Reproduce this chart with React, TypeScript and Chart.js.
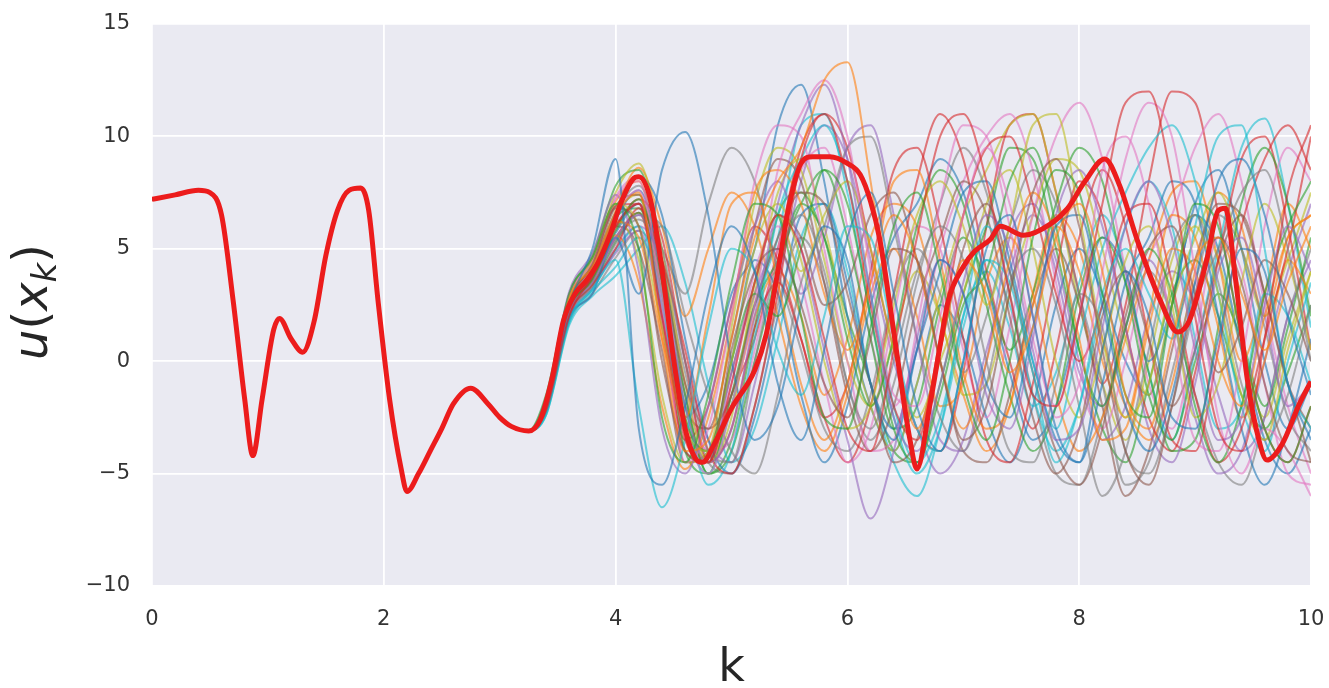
import React, { useEffect, useRef } from "react";
import { Chart, registerables } from "chart.js";

Chart.register(...registerables);

// ---- data ----
const RED_K = [0, 0.2, 0.4, 0.5, 0.6, 0.7, 0.8, 0.87, 0.95, 1.05, 1.1, 1.2, 1.3, 1.4, 1.5, 1.6, 1.7, 1.8, 1.87, 1.95, 2.05, 2.15, 2.2, 2.3, 2.4, 2.5, 2.6, 2.75, 2.9, 3.0, 3.1, 3.25,
  3.35, 3.45, 3.55, 3.65, 3.75, 3.85, 3.95, 4.05, 4.15, 4.2, 4.3, 4.4, 4.5, 4.6, 4.7, 4.75, 4.85, 5.0, 5.2, 5.3, 5.4, 5.5, 5.6, 5.7, 5.85, 6.0, 6.11, 6.2, 6.28, 6.37, 6.45, 6.54, 6.6, 6.71, 6.81,
  6.87, 7.0, 7.1, 7.23, 7.32, 7.52, 7.75, 7.9, 8.05, 8.22, 8.35, 8.5, 8.7, 8.85, 8.95, 9.1, 9.2, 9.26, 9.35, 9.45, 9.55, 9.62, 9.75, 9.9, 10];
const RED_U = [7.2, 7.4, 7.6, 7.5, 6.5, 2.7, -1.7, -4.2, -1.7, 1.4, 1.9, 1.0, 0.4, 1.8, 4.7, 6.7, 7.6, 7.7, 6.7, 2.7, -1.7, -4.8, -5.8, -5.0, -4.0, -3.0, -1.9, -1.2, -1.9, -2.5, -2.9, -3.1,
  -2.6, -0.8, 1.8, 3.0, 3.6, 4.4, 5.6, 7.1, 8.1, 8.2, 7.2, 4.1, 0.1, -3.0, -4.4, -4.5, -3.7, -2.1, -0.4, 1.2, 4.0, 7.0, 8.8, 9.1, 9.1, 8.8, 8.3, 7.1, 5.4, 2.4, -0.5, -3.5, -4.8, -2.0, 1.0,
  2.7, 4.2, 4.9, 5.4, 6.0, 5.6, 6.1, 6.8, 8.0, 9.0, 7.8, 5.4, 2.7, 1.3, 1.8, 4.5, 6.7, 6.8, 3.6, -0.8, -3.5, -4.4, -3.7, -1.9, -0.9];

const TAIL_K = [3.4, 3.6, 3.8, 4.0, 4.2, 4.4, 4.6, 4.8, 5.0, 5.2, 5.4, 5.6, 5.8, 6.0, 6.2, 6.4, 6.6, 6.8, 7.0, 7.2, 7.4, 7.6, 7.8, 8.0, 8.2, 8.4, 8.6, 8.8, 9.0, 9.2, 9.4, 9.6, 9.8, 10.0];

const ENS_1 = [-2.0, 2.5, 5.0, 9.0, -3.0, -5.5, -2.0, 3.0, 6.0, 4.0, -1.0, -3.5, 0.5, 5.5, 7.5, 3.0, -2.0, -4.0, 0.0, 5.0, 6.5, 2.0, -3.0, -4.5, 0.5, 4.0, 2.0, -2.5, -3.0, 1.0, 5.0, 4.0, -1.0, -3.5];
const ENS_2 = [-1.8, 2.8, 4.2, 6.5, 7.5, 1.0, -4.0, -3.5, 1.0, 5.5, 8.0, 9.5, 12.5, 13.3, 8.0, 1.0, -3.0, 0.5, 4.5, 3.0, -0.5, 1.5, 5.5, 7.0, 4.0, -1.5, -3.0, 1.0, 4.5, 5.5, 3.0, 0.5, 3.5, 6.0];
const ENS_3 = [-1.5, 3.0, 4.6, 7.0, 5.0, -2.5, -4.5, -1.5, 3.5, 7.0, 6.5, 2.0, -2.5, -3.0, 1.5, 6.0, 7.5, 4.0, -1.0, -3.5, 0.0, 5.5, 8.5, 7.5, 3.0, -1.5, -2.5, 2.5, 7.0, 6.0, 1.0, -3.0, -4.5, -2.0];
const ENS_4 = [-2.2, 2.0, 3.8, 6.0, 7.0, 2.0, -3.5, -4.5, -1.0, 3.5, 6.5, 5.0, 1.0, -3.0, -4.0, 0.5, 5.5, 10.0, 11.0, 8.0, 3.0, -1.5, -2.0, 2.0, 7.0, 11.5, 12.0, 8.0, 2.0, -3.0, -4.0, 1.0, 7.5, 10.5];
const ENS_5 = [-2.0, 2.2, 3.5, 5.5, 6.5, 4.0, -2.0, -4.5, -3.0, 2.0, 7.0, 10.5, 12.3, 9.0, 3.0, -2.5, -4.0, -1.0, 3.5, 6.5, 5.0, 0.5, -3.5, -3.0, 1.5, 6.0, 8.0, 5.5, 0.5, -3.5, -2.5, 2.5, 6.0, 4.0];
const ENS_6 = [-1.9, 2.6, 4.3, 6.8, 6.0, 0.0, -4.0, -4.5, 0.5, 4.0, 5.0, 2.5, -1.0, -2.5, 1.0, 5.0, 4.5, 0.0, -3.5, -2.0, 3.0, 7.5, 9.0, 6.0, 0.5, -4.0, -5.5, -2.0, 3.0, 5.5, 3.5, -1.0, -4.0, -4.5];
const ENS_7 = [-1.7, 2.9, 4.4, 7.2, 8.0, 3.0, -3.0, -5.0, -2.0, 2.5, 8.5, 11.0, 12.5, 10.0, 4.0, -1.5, -2.0, 2.0, 6.5, 9.5, 7.0, 2.0, -2.5, -1.0, 4.0, 9.0, 11.5, 10.0, 4.0, -2.5, -5.0, -3.0, -4.0, -6.0];
const ENS_8 = [-2.1, 2.4, 4.0, 6.6, 7.8, 5.0, 0.0, -4.0, -4.5, 0.0, 4.5, 6.5, 4.0, -1.0, -3.0, 0.0, 4.0, 6.0, 4.5, 0.0, -4.0, -4.5, -1.0, 3.0, 1.5, -4.0, -5.0, -2.0, 2.5, 5.0, 7.5, 8.5, 5.0, 0.0];
const ENS_9 = [-1.8, 2.7, 4.5, 7.0, 6.0, 1.5, -3.0, -4.0, 0.0, 5.0, 7.0, 4.5, 0.0, -3.0, -2.0, 2.5, 6.5, 8.0, 6.0, 2.5, 6.0, 10.5, 11.0, 6.5, 1.0, -2.5, -1.0, 3.5, 6.0, 3.0, -1.5, -3.5, 0.5, 4.0];
const ENS_10 = [-2.3, 1.8, 3.2, 4.5, -2.0, -6.5, -3.5, 1.5, 5.0, 4.0, 0.5, -1.5, 2.0, 6.0, 5.5, 1.0, -3.0, -4.0, 0.0, 4.5, 3.5, -0.5, -4.5, -2.0, 3.0, 5.0, 3.0, 1.0, 6.0, 10.0, 10.5, 5.0, -1.0, -3.0];
const ENS_11 = [-2.2, 1.9, 3.0, 5.5, 3.0, 8.5, 10.2, 6.5, 0.0, -3.5, -2.0, 2.5, 6.0, 4.5, -1.0, -3.5, 0.5, 4.5, 3.0, -1.0, -2.5, 1.5, 6.0, 6.5, 2.5, -2.0, -4.0, -1.5, 3.5, 8.0, 9.0, 6.5, 2.0, -1.5];
const ENS_12 = [-1.9, 2.5, 3.9, 6.2, 5.5, 1.0, -2.5, 2.0, 7.0, 7.5, 3.5, -1.0, -3.5, -1.0, 3.5, 6.5, 4.5, 0.0, -3.0, 0.0, 4.5, 7.5, 5.5, 1.0, -3.5, -3.0, 1.5, 5.0, 4.0, 0.0, -2.0, 2.0, 5.5, 6.5];
const ENS_13 = [-2.0, 2.3, 3.6, 5.8, 7.2, 3.5, -2.5, -4.0, 0.0, 3.0, 2.0, 5.0, 8.5, 7.0, 2.0, -3.0, -4.5, -1.5, 2.5, 4.0, 8.0, 9.5, 6.0, 0.5, -2.0, 1.5, 5.0, 3.0, -2.0, -4.5, -2.0, 3.0, 6.0, 8.0];
const ENS_14 = [-2.1, 2.1, 3.4, 5.0, 6.8, 4.5, 0.5, -4.0, -5.0, -2.0, 3.0, 9.0, 11.0, 8.0, 2.5, -2.0, -3.5, 1.0, 6.5, 9.5, 10.0, 7.0, 3.0, 0.0, 2.5, 6.5, 7.0, 3.5, -1.5, -4.5, -3.0, 1.0, 5.0, 10.0];
const ENS_15 = [-1.6, 3.1, 4.8, 7.4, 4.0, -3.0, -5.0, -2.0, 2.5, 6.0, 8.0, 5.0, 0.5, -3.5, -7.0, -4.0, 1.0, 4.5, 3.0, -1.5, -3.0, 1.0, 6.5, 8.5, 6.0, 1.5, -3.0, -4.5, -1.0, 4.0, 5.5, 2.0, -2.0, -1.0];
const ENS_16 = [-2.0, 2.2, 3.7, 6.0, 7.0, 4.0, -1.0, -3.0, -1.5, 2.5, 5.5, 7.5, 7.0, 3.0, -1.0, -4.5, -3.5, 0.5, 5.0, 7.0, 4.0, -0.5, -4.0, -5.5, -3.0, 2.0, 5.0, 6.0, 3.0, -0.5, 1.5, 4.5, 3.0, 0.0];
const ENS_17 = [-1.9, 2.6, 4.1, 6.5, 7.6, 2.5, -4.5, -3.0, 2.0, 8.0, 10.5, 10.0, 5.0, 0.0, -4.0, -3.5, 1.5, 7.0, 10.5, 10.0, 6.0, 1.0, -2.0, 2.0, 8.5, 10.0, 7.0, 1.5, -3.5, -4.0, 0.0, 6.0, 9.5, 8.0];
const ENS_18 = [-2.2, 2.0, 3.3, 5.2, 6.5, 6.0, 2.0, -1.5, -4.0, -5.0, -1.5, 3.5, 6.0, 9.5, 10.0, 6.0, 1.0, -2.5, -4.0, -1.0, 3.5, 5.0, 2.5, -2.0, -6.0, -4.0, 0.5, 5.0, 6.5, 3.5, -1.0, -3.5, -1.5, 2.5];
const ENS_19 = [-1.8, 2.8, 4.4, 7.5, 8.8, 5.0, -1.0, -4.5, -2.5, 3.5, 6.5, 4.0, 6.5, 8.0, 5.0, 0.5, -2.5, 0.0, 3.0, 7.0, 8.5, 5.0, 0.0, -2.5, 0.5, 4.5, 6.0, 2.5, -2.5, -1.0, 3.5, 7.0, 4.5, 0.5];
const ENS_20 = [-2.4, 1.7, 3.1, 4.2, 5.5, 3.0, -2.0, -5.5, -4.0, 1.0, 6.5, 9.0, 10.5, 8.0, 3.0, -2.0, -4.5, -2.5, 2.0, 6.0, 4.0, 0.0, -3.0, 1.0, 5.0, 7.5, 9.5, 10.5, 8.0, 3.0, -2.0, -4.0, 0.0, 3.5];
const ENS_21 = [-1.9, 2.4, 3.9, 6.4, 8.2, 6.5, 1.0, -3.5, -5.0, -2.5, 2.0, 6.5, 7.0, 3.5, -1.0, -3.0, 0.5, 4.0, 7.5, 8.0, 4.5, 0.0, -3.5, -4.5, -1.0, 3.5, 5.5, 8.0, 7.0, 2.0, -3.0, -5.5, -3.0, 1.0];
const ENS_22 = [-2.1, 2.2, 3.6, 5.6, 3.5, -2.0, -4.8, -2.5, 2.0, 7.5, 8.5, 7.0, 3.0, 0.5, 3.5, 8.0, 8.5, 4.5, -0.5, -3.0, -2.0, 2.5, 6.0, 4.0, 0.0, -2.5, 2.0, 6.5, 5.5, 1.5, -2.5, 0.0, 4.5, 3.0];
const ENS_23 = [-1.7, 3.0, 4.7, 7.8, 8.5, 4.5, -1.5, -5.0, -4.0, 0.0, 4.0, 7.0, 5.5, 1.0, -2.0, 1.0, 6.0, 8.5, 7.0, 2.5, -1.5, -4.0, -2.0, 3.0, 5.5, 3.5, -0.5, -4.0, -3.5, 1.5, 7.0, 9.5, 7.0, 2.0];
const ENS_24 = [-2.0, 2.3, 3.7, 5.9, 7.2, 5.5, 0.0, -4.5, -3.0, 1.5, 3.5, 1.0, -2.5, -1.0, 4.0, 8.5, 9.5, 6.0, 1.0, -3.5, -4.5, -1.0, 4.0, 8.0, 6.5, 1.5, -2.5, -4.0, -0.5, 4.5, 9.0, 10.0, 6.0, 0.5];
const ENS_25 = [-2.2, 2.0, 3.3, 4.8, 5.8, 2.0, -3.0, -4.5, -0.5, 3.0, 5.0, 3.0, 5.5, 9.5, 10.5, 6.5, 1.0, -3.5, -4.0, 0.0, 5.5, 7.0, 4.0, -0.5, -2.0, 1.5, 4.5, 2.0, -2.5, -5.0, -4.0, 0.0, 4.0, 7.0];
const ENS_26 = [-1.8, 2.7, 4.2, 6.9, 7.4, 3.5, -2.0, -3.0, 1.0, 6.0, 9.0, 8.0, 3.5, -1.5, -4.0, -2.0, 2.5, 5.5, 8.0, 6.5, 2.0, -2.5, -5.0, -3.0, 2.0, 4.0, 1.0, -2.0, 0.5, 4.5, 6.5, 3.0, -1.0, -4.5];
const ENS_27 = [-2.0, 2.4, 3.8, 6.1, 7.0, 3.5, -1.5, -4.0, -1.0, 4.0, 6.0, 3.5, -1.0, -4.5, -3.0, 2.0, 6.0, 5.0, 0.5, -2.5, 1.5, 6.5, 10.0, 11.5, 9.0, 4.0, -1.0, -3.0, 1.0, 5.5, 4.0, -1.0, -5.0, -5.5];
const ENS_28 = [-2.1, 2.1, 3.5, 5.4, 6.3, 5.0, 3.0, 7.0, 9.5, 8.0, 4.0, 0.5, -3.0, -4.0, -1.5, 3.0, 5.0, 3.0, -0.5, 2.0, 6.0, 8.5, 7.0, 3.0, -1.0, -5.5, -4.5, -0.5, 3.5, 6.5, 5.0, 1.5, -2.5, -4.0];
const ENS_29 = [-1.9, 2.6, 4.0, 6.3, 4.5, -1.5, -4.5, -4.0, 1.5, 7.0, 9.5, 8.5, 4.5, 0.0, -2.0, 1.0, 4.0, 2.0, -1.5, -1.0, 3.0, 6.5, 9.0, 8.5, 5.0, 1.0, -1.5, 2.5, 5.5, 7.5, 5.0, 2.0, 4.5, 7.5];
const ENS_30 = [-2.3, 1.9, 3.2, 4.9, 6.0, 2.5, -3.0, -5.0, -2.0, 2.5, 5.5, 10.5, 11.0, 7.5, 2.0, -2.5, -5.0, -3.0, 1.5, 4.5, 2.5, -1.5, -4.0, -2.0, 2.5, 6.0, 8.0, 6.0, 1.0, -3.0, -2.0, 3.0, 2.0, -1.0];
const ENS_31 = [-2.0, 2.3, 3.8, 6.3, 7.6, 4.0, -3.0, -4.0, 0.0, 4.5, 3.0, -1.5, -4.5, -2.0, 2.5, 5.5, 7.0, 9.0, 7.5, 3.5, -0.5, -3.5, -2.0, 2.0, 5.5, 4.0, 0.0, 2.5, 6.5, 5.0, 0.5, -3.5, -5.0, -3.0];
const ENS_32 = [-1.9, 2.5, 4.0, 6.7, 8.6, 6.0, 2.0, 5.0, 7.5, 6.0, 2.0, -2.0, -4.0, -1.5, 3.0, 5.0, 2.0, -2.0, -1.0, 3.5, 5.5, 3.0, -1.5, -4.0, -2.5, 1.0, 4.5, 7.5, 8.0, 4.5, 0.0, 3.0, 7.0, 5.0];
const ENS_33 = [-2.1, 2.1, 3.4, 5.3, 6.6, 3.0, -4.0, -5.0, -1.5, 2.5, 4.5, 7.0, 8.5, 5.5, 1.0, -3.0, -2.0, 2.5, 5.5, 3.5, 0.5, 3.0, 7.0, 9.5, 8.0, 3.5, -1.5, -3.5, 0.0, 3.0, 1.0, -2.0, 1.5, 5.5];
const ENS_34 = [-1.8, 2.7, 4.3, 6.9, 7.0, 1.5, -3.5, -2.0, 2.5, 6.0, 4.5, 1.0, -2.5, -4.5, -2.0, 3.0, 8.0, 11.0, 9.0, 4.0, 0.0, -3.0, 0.5, 5.5, 8.5, 6.0, 1.0, -3.5, -4.0, 0.5, 6.0, 9.0, 10.5, 8.5];
const ENS_35 = [-2.2, 1.9, 3.2, 5.0, 6.0, 4.5, 0.0, -3.5, -4.5, -1.0, 3.5, 8.0, 10.5, 9.0, 4.5, 0.0, -3.0, -5.0, -3.5, 0.5, 4.0, 6.5, 4.5, 0.0, -3.5, -2.0, 2.0, 4.0, 2.5, -1.5, -4.0, -2.5, 2.0, 4.5];
const ENS_36 = [-2.0, 2.4, 3.9, 6.0, 5.0, 0.5, -4.5, -4.0, -0.5, 3.5, 6.5, 5.5, 2.5, 3.5, 6.5, 7.5, 4.5, 0.0, -4.0, -4.5, -1.5, 2.5, 5.0, 2.5, -2.0, -6.0, -4.0, 0.5, 4.5, 7.0, 6.5, 3.0, -1.0, -3.0];
const ENS_37 = [-1.7, 2.9, 4.6, 7.3, 8.2, 4.5, -1.0, -4.0, -3.5, 0.5, 5.0, 8.5, 9.5, 6.0, 1.0, -2.0, 0.5, 5.0, 8.0, 10.0, 11.0, 8.5, 3.5, -1.0, -3.0, 0.0, 4.5, 6.5, 9.5, 11.0, 8.0, 2.5, -2.0, -5.0];
const ENS_38 = [-2.3, 1.8, 3.0, 4.6, 5.8, 4.0, -0.5, -4.5, -5.0, -2.0, 2.5, 5.5, 3.5, -1.0, -3.5, -1.0, 3.5, 7.0, 9.5, 7.5, 3.0, -1.5, -5.0, -5.5, -2.5, 1.5, 4.0, 2.0, -1.5, -4.5, -5.5, -2.5, 2.0, 5.0];
const ENS_39 = [-1.9, 2.6, 4.2, 6.6, 7.4, 3.0, -2.0, -4.5, -2.0, 3.0, 7.5, 9.0, 6.0, 1.5, -2.0, -4.0, -1.0, 3.0, 6.5, 8.5, 10.5, 11.0, 7.5, 2.5, -1.0, -3.5, 0.0, 4.5, 6.5, 4.5, 0.5, -2.5, 1.0, 4.0];
const ENS_40 = [-2.4, 1.6, 2.9, 3.8, 5.0, 6.0, 3.5, -1.0, -4.5, -3.0, 1.0, 5.5, 7.0, 4.0, -1.0, -4.5, -6.0, -3.0, 2.0, 4.0, 1.5, -2.0, -0.5, 3.5, 6.5, 4.0, -0.5, -3.5, 0.5, 5.0, 9.5, 10.8, 7.0, 1.5];
const ENS_41 = [-2.1, 2.2, 3.6, 5.7, 7.0, 2.5, -2.5, -1.0, 3.0, 5.0, 10.5, 12.3, 8.0, 2.0, -2.0, -4.0, -1.0, 2.5, 1.0, -2.5, -4.5, -2.0, 2.5, 5.0, 3.0, 0.0, -1.5, 2.5, 7.0, 8.5, 5.0, 0.0, -3.0, -1.0];
const ENS_42 = [-1.8, 2.8, 4.5, 7.1, 8.0, 3.5, -2.5, -4.5, -2.0, 2.0, 4.0, 2.0, -1.5, 1.0, 5.5, 7.0, 6.0, 2.0, -1.5, -4.0, -2.0, 3.0, 6.5, 5.0, 1.0, -2.0, -3.5, -1.0, 4.0, 7.5, 6.0, 2.0, 5.5, 6.5];
const ENS_43 = [-2.0, 2.5, 4.1, 6.4, 6.8, 3.0, -1.5, -5.0, -3.5, 1.5, 6.5, 7.5, 5.5, 2.0, -1.0, -4.0, -4.5, -1.0, 3.0, 6.0, 9.5, 9.0, 5.0, 0.5, -3.0, -4.5, -1.0, 3.0, 4.5, 2.0, -1.5, -3.0, -0.5, 2.5];
const ENS_44 = [-2.1, 2.3, 3.7, 5.5, 6.6, 2.0, -4.0, -4.5, -1.5, 1.0, 5.0, 9.5, 11.0, 9.5, 5.0, 0.5, -3.0, -4.0, -0.5, 6.0, 10.5, 11.0, 7.5, 3.0, -1.0, 2.5, 8.0, 12.0, 11.5, 6.5, 1.0, -3.0, -4.5, -2.0];

const ENSEMBLE = [ENS_1, ENS_2, ENS_3, ENS_4, ENS_5, ENS_6, ENS_7, ENS_8, ENS_9, ENS_10,
  ENS_11, ENS_12, ENS_13, ENS_14, ENS_15, ENS_16, ENS_17, ENS_18, ENS_19, ENS_20,
  ENS_21, ENS_22, ENS_23, ENS_24, ENS_25, ENS_26, ENS_27, ENS_28, ENS_29, ENS_30,
  ENS_31, ENS_32, ENS_33, ENS_34, ENS_35, ENS_36, ENS_37, ENS_38, ENS_39, ENS_40,
  ENS_41, ENS_42, ENS_43, ENS_44];

const PREFIX_END_K = 3.25;
const TAB10 = ["31,119,180", "255,127,14", "44,160,44", "214,39,40", "148,103,189", "140,86,75", "227,119,194", "127,127,127", "188,189,34", "23,190,207"];
const X_TICK_STEP = 2;
const Y_TICK_STEP = 5;
const X_LABEL = "k";

export default function App() {
  const ref = useRef<HTMLCanvasElement | null>(null);

  useEffect(() => {
    document.body.style.margin = "0";
    const canvas = ref.current;
    if (!canvas) return;

    const prefix: { x: number; y: number }[] = [];
    RED_K.forEach((k, i) => {
      if (k <= PREFIX_END_K) prefix.push({ x: k, y: RED_U[i] });
    });

    const ensembleSets = ENSEMBLE.map((tail, j) => ({
      data: prefix.concat(TAIL_K.map((k, i) => ({ x: k, y: tail[i] }))),
      borderColor: `rgba(${TAB10[j % 10]},0.6)`,
      borderWidth: 2,
      pointRadius: 0,
      fill: false,
      cubicInterpolationMode: "monotone" as const,
    }));

    const redSet = {
      data: RED_K.map((k, i) => ({ x: k, y: RED_U[i] })),
      borderColor: "#ec1c1c",
      borderWidth: 5,
      pointRadius: 0,
      fill: false,
      cubicInterpolationMode: "monotone" as const,
    };

    const bgPlugin = {
      id: "bg",
      beforeDraw(chart: any) {
        const { ctx, chartArea } = chart;
        ctx.save();
        ctx.fillStyle = "#eaeaf2";
        ctx.fillRect(chartArea.left, chartArea.top, chartArea.right - chartArea.left, chartArea.bottom - chartArea.top);
        ctx.restore();
      },
    };

    const labelPlugin = {
      id: "labels",
      afterDraw(chart: any) {
        const { ctx, chartArea } = chart;
        ctx.save();
        ctx.fillStyle = "#262626";
        // x label
        ctx.font = '46px "DejaVu Sans"';
        ctx.textAlign = "center";
        ctx.textBaseline = "alphabetic";
        ctx.fillText(X_LABEL, (chartArea.left + chartArea.right) / 2, 681);
        // y label u(x_k)
        const cy = (chartArea.top + chartArea.bottom) / 2 - 3;
        ctx.translate(47, cy);
        ctx.rotate(-Math.PI / 2);
        const big = 'italic 48px "DejaVu Sans"';
        const bigUp = '48px "DejaVu Sans"';
        const small = 'italic 34px "DejaVu Sans"';
        ctx.font = big;
        const wu = ctx.measureText("u").width;
        ctx.font = bigUp;
        const wp = ctx.measureText("(").width;
        ctx.font = big;
        const wx = ctx.measureText("x").width;
        ctx.font = small;
        const wk = ctx.measureText("k").width;
        ctx.font = bigUp;
        const wc = ctx.measureText(")").width;
        const total = wu + wp + wx + wk + wc;
        let x0 = -total / 2;
        ctx.textAlign = "left";
        ctx.font = big;
        ctx.fillText("u", x0, 0); x0 += wu;
        ctx.font = bigUp;
        ctx.fillText("(", x0, 0); x0 += wp;
        ctx.font = big;
        ctx.fillText("x", x0, 0); x0 += wx;
        ctx.font = small;
        ctx.fillText("k", x0, 9); x0 += wk;
        ctx.font = bigUp;
        ctx.fillText(")", x0, 0);
        ctx.restore();
      },
    };

    const fmt = (v: any) => String(v).replace("-", "\u2212");
    const zeroPad = (s: any) => { s.paddingTop = 0; s.paddingBottom = 0; s.paddingLeft = 0; s.paddingRight = 0; };

    const chart = new Chart(canvas, {
      type: "line",
      data: { datasets: [redSet as any, ...(ensembleSets as any)] },
      options: {
        animation: false,
        responsive: false,
        devicePixelRatio: 1,
        layout: { padding: { left: 0, right: 18, top: 24, bottom: 0 } },
        plugins: { legend: { display: false }, tooltip: { enabled: false } },
        scales: {
          x: {
            type: "linear",
            min: 0,
            max: 10,
            ticks: { stepSize: X_TICK_STEP, padding: 21, color: "#333333", font: { family: "DejaVu Sans", size: 21 }, callback: fmt, maxRotation: 0 },
            grid: { color: "#ffffff", lineWidth: 1.8, drawTicks: false },
            border: { display: false },
            afterFit: (s: any) => { s.height = 102; zeroPad(s); },
          },
          y: {
            type: "linear",
            min: -10,
            max: 15,
            ticks: { stepSize: Y_TICK_STEP, padding: 22, color: "#333333", font: { family: "DejaVu Sans", size: 21 }, callback: fmt },
            grid: { color: "#ffffff", lineWidth: 1.8, drawTicks: false },
            border: { display: false },
            afterFit: (s: any) => { s.width = 152; zeroPad(s); },
          },
        },
      },
      plugins: [bgPlugin, labelPlugin],
    });

    return () => chart.destroy();
  }, []);

  return (
    <div style={{ width: 1329, height: 688, overflow: "hidden", background: "#ffffff" }}>
      <canvas ref={ref} width={1329} height={688} style={{ display: "block" }} />
    </div>
  );
}
